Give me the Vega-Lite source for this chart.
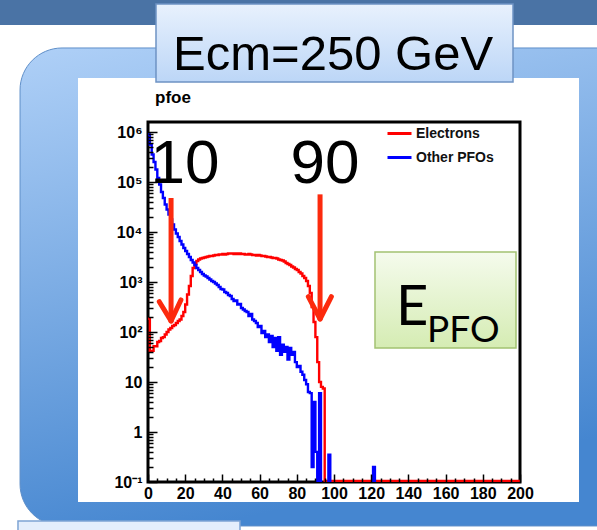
{
  "$schema": "https://vega.github.io/schema/vega-lite/v6.json",
  "width": 372,
  "height": 360,
  "autosize": {"type": "none"},
  "padding": {"left": 148, "top": 122, "right": 77, "bottom": 48},
  "background": "white",
  "config": {"view": {"stroke": null}, "axis": {"labelOverlap": false, "labelFlush": false, "labelBound": false}},
  "data": {"values": [
    {"x":0,"Electrons":186,"Other PFOs":891000},{"x":1,"Electrons":42,"Other PFOs":562000},{"x":2,"Electrons":42,"Other PFOs":355000},{"x":3,"Electrons":52,"Other PFOs":251000},{"x":4,"Electrons":52,"Other PFOs":178000},
    {"x":5,"Electrons":63,"Other PFOs":120000},{"x":6,"Electrons":66,"Other PFOs":89100},{"x":7,"Electrons":76,"Other PFOs":63100},{"x":8,"Electrons":79,"Other PFOs":47900},{"x":9,"Electrons":89,"Other PFOs":35500},
    {"x":10,"Electrons":100,"Other PFOs":28200},{"x":11,"Electrons":112,"Other PFOs":22400},{"x":12,"Electrons":120,"Other PFOs":17800},{"x":13,"Electrons":132,"Other PFOs":14100},{"x":14,"Electrons":138,"Other PFOs":11200},
    {"x":15,"Electrons":151,"Other PFOs":9330},{"x":16,"Electrons":166,"Other PFOs":7940},{"x":17,"Electrons":178,"Other PFOs":6610},{"x":18,"Electrons":209,"Other PFOs":5620},{"x":19,"Electrons":251,"Other PFOs":4790},
    {"x":20,"Electrons":355,"Other PFOs":4170},{"x":21,"Electrons":562,"Other PFOs":3630},{"x":22,"Electrons":832,"Other PFOs":3160},{"x":23,"Electrons":1320,"Other PFOs":2750},{"x":24,"Electrons":1910,"Other PFOs":2450},
    {"x":25,"Electrons":2290,"Other PFOs":2190},{"x":26,"Electrons":2630,"Other PFOs":1910},{"x":27,"Electrons":2820,"Other PFOs":1740},{"x":28,"Electrons":2950,"Other PFOs":1580},{"x":29,"Electrons":3020,"Other PFOs":1450},
    {"x":30,"Electrons":3090,"Other PFOs":1350},{"x":31,"Electrons":3160,"Other PFOs":1290},{"x":32,"Electrons":3240,"Other PFOs":1200},{"x":33,"Electrons":3310,"Other PFOs":1120},{"x":34,"Electrons":3310,"Other PFOs":1050},
    {"x":35,"Electrons":3390,"Other PFOs":1000},{"x":36,"Electrons":3470,"Other PFOs":933},{"x":37,"Electrons":3470,"Other PFOs":871},{"x":38,"Electrons":3550,"Other PFOs":794},{"x":39,"Electrons":3550,"Other PFOs":724},
    {"x":40,"Electrons":3630,"Other PFOs":708},{"x":41,"Electrons":3550,"Other PFOs":631},{"x":42,"Electrons":3630,"Other PFOs":603},{"x":43,"Electrons":3720,"Other PFOs":550},{"x":44,"Electrons":3720,"Other PFOs":525},
    {"x":45,"Electrons":3720,"Other PFOs":457},{"x":46,"Electrons":3630,"Other PFOs":417},{"x":47,"Electrons":3720,"Other PFOs":427},{"x":48,"Electrons":3630,"Other PFOs":355},{"x":49,"Electrons":3720,"Other PFOs":363},
    {"x":50,"Electrons":3630,"Other PFOs":302},{"x":51,"Electrons":3630,"Other PFOs":282},{"x":52,"Electrons":3550,"Other PFOs":263},{"x":53,"Electrons":3550,"Other PFOs":251},{"x":54,"Electrons":3630,"Other PFOs":209},
    {"x":55,"Electrons":3550,"Other PFOs":229},{"x":56,"Electrons":3470,"Other PFOs":178},{"x":57,"Electrons":3470,"Other PFOs":166},{"x":58,"Electrons":3390,"Other PFOs":151},{"x":59,"Electrons":3470,"Other PFOs":126},
    {"x":60,"Electrons":3390,"Other PFOs":132},{"x":61,"Electrons":3310,"Other PFOs":95},{"x":62,"Electrons":3310,"Other PFOs":105},{"x":63,"Electrons":3240,"Other PFOs":79},{"x":64,"Electrons":3160,"Other PFOs":89},
    {"x":65,"Electrons":3160,"Other PFOs":63},{"x":66,"Electrons":3090,"Other PFOs":83},{"x":67,"Electrons":3020,"Other PFOs":50},{"x":68,"Electrons":3020,"Other PFOs":76},{"x":69,"Electrons":2950,"Other PFOs":42},
    {"x":70,"Electrons":2820,"Other PFOs":79},{"x":71,"Electrons":2750,"Other PFOs":35},{"x":72,"Electrons":2690,"Other PFOs":56},{"x":73,"Electrons":2570,"Other PFOs":40},{"x":74,"Electrons":2400,"Other PFOs":50},
    {"x":75,"Electrons":2290,"Other PFOs":28},{"x":76,"Electrons":2190,"Other PFOs":48},{"x":77,"Electrons":2040,"Other PFOs":35},{"x":78,"Electrons":1950,"Other PFOs":40},{"x":79,"Electrons":1820,"Other PFOs":25},
    {"x":80,"Electrons":1740,"Other PFOs":20},{"x":81,"Electrons":1580,"Other PFOs":21},{"x":82,"Electrons":1480,"Other PFOs":16},{"x":83,"Electrons":1320,"Other PFOs":14},{"x":84,"Electrons":1200,"Other PFOs":11},
    {"x":85,"Electrons":1050,"Other PFOs":9},{"x":86,"Electrons":832,"Other PFOs":6.3},{"x":87,"Electrons":603,"Other PFOs":6},{"x":88,"Electrons":316,"Other PFOs":0.2},{"x":89,"Electrons":158,"Other PFOs":4},
    {"x":90,"Electrons":79,"Other PFOs":0.4},{"x":91,"Electrons":25,"Other PFOs":0.05},{"x":92,"Electrons":10,"Other PFOs":6},{"x":93,"Electrons":8,"Other PFOs":0.05},{"x":94,"Electrons":7.4,"Other PFOs":0.05},
    {"x":95,"Electrons":0.105,"Other PFOs":0.05},{"x":96,"Electrons":0.105,"Other PFOs":0.05},{"x":97,"Electrons":0.105,"Other PFOs":0.35},{"x":98,"Electrons":0.105,"Other PFOs":0.05},{"x":99,"Electrons":0.105,"Other PFOs":0.05},
    {"x":100,"Electrons":0.105,"Other PFOs":0.05},{"x":101,"Electrons":0.105,"Other PFOs":0.05},{"x":102,"Electrons":0.105,"Other PFOs":0.05},{"x":103,"Electrons":0.105,"Other PFOs":0.05},{"x":104,"Electrons":0.105,"Other PFOs":0.05},
    {"x":105,"Electrons":0.105,"Other PFOs":0.05},{"x":106,"Electrons":0.105,"Other PFOs":0.05},{"x":107,"Electrons":0.105,"Other PFOs":0.05},{"x":108,"Electrons":0.105,"Other PFOs":0.05},{"x":109,"Electrons":0.105,"Other PFOs":0.05},
    {"x":110,"Electrons":0.105,"Other PFOs":0.05},{"x":111,"Electrons":0.105,"Other PFOs":0.05},{"x":112,"Electrons":0.105,"Other PFOs":0.05},{"x":113,"Electrons":0.105,"Other PFOs":0.05},{"x":114,"Electrons":0.105,"Other PFOs":0.05},
    {"x":115,"Electrons":0.105,"Other PFOs":0.05},{"x":116,"Electrons":0.105,"Other PFOs":0.05},{"x":117,"Electrons":0.105,"Other PFOs":0.05},{"x":118,"Electrons":0.105,"Other PFOs":0.05},{"x":119,"Electrons":0.105,"Other PFOs":0.05},
    {"x":120,"Electrons":0.105,"Other PFOs":0.05},{"x":121,"Electrons":0.105,"Other PFOs":0.2},{"x":122,"Electrons":0.105,"Other PFOs":0.05},{"x":123,"Electrons":0.105,"Other PFOs":0.05},{"x":124,"Electrons":0.105,"Other PFOs":0.05},
    {"x":125,"Electrons":0.105,"Other PFOs":0.05},{"x":126,"Electrons":0.105,"Other PFOs":0.05},{"x":127,"Electrons":0.105,"Other PFOs":0.05},{"x":128,"Electrons":0.105,"Other PFOs":0.05},{"x":129,"Electrons":0.105,"Other PFOs":0.05},
    {"x":130,"Electrons":0.105,"Other PFOs":0.05},{"x":131,"Electrons":0.105,"Other PFOs":0.05},{"x":132,"Electrons":0.105,"Other PFOs":0.05},{"x":133,"Electrons":0.105,"Other PFOs":0.05},{"x":134,"Electrons":0.105,"Other PFOs":0.05},
    {"x":135,"Electrons":0.105,"Other PFOs":0.05},{"x":136,"Electrons":0.105,"Other PFOs":0.05},{"x":137,"Electrons":0.105,"Other PFOs":0.05},{"x":138,"Electrons":0.105,"Other PFOs":0.05},{"x":139,"Electrons":0.105,"Other PFOs":0.05},
    {"x":140,"Electrons":0.105,"Other PFOs":0.05},{"x":141,"Electrons":0.105,"Other PFOs":0.05},{"x":142,"Electrons":0.105,"Other PFOs":0.05},{"x":143,"Electrons":0.105,"Other PFOs":0.05},{"x":144,"Electrons":0.105,"Other PFOs":0.05},
    {"x":145,"Electrons":0.105,"Other PFOs":0.05},{"x":146,"Electrons":0.105,"Other PFOs":0.05},{"x":147,"Electrons":0.105,"Other PFOs":0.05},{"x":148,"Electrons":0.105,"Other PFOs":0.05},{"x":149,"Electrons":0.105,"Other PFOs":0.05},
    {"x":150,"Electrons":0.105,"Other PFOs":0.05},{"x":151,"Electrons":0.105,"Other PFOs":0.05},{"x":152,"Electrons":0.105,"Other PFOs":0.05},{"x":153,"Electrons":0.105,"Other PFOs":0.05},{"x":154,"Electrons":0.105,"Other PFOs":0.05},
    {"x":155,"Electrons":0.105,"Other PFOs":0.05},{"x":156,"Electrons":0.105,"Other PFOs":0.05},{"x":157,"Electrons":0.105,"Other PFOs":0.05},{"x":158,"Electrons":0.105,"Other PFOs":0.05},{"x":159,"Electrons":0.105,"Other PFOs":0.05},
    {"x":160,"Electrons":0.105,"Other PFOs":0.05},{"x":161,"Electrons":0.105,"Other PFOs":0.05},{"x":162,"Electrons":0.105,"Other PFOs":0.05},{"x":163,"Electrons":0.105,"Other PFOs":0.05},{"x":164,"Electrons":0.105,"Other PFOs":0.05},
    {"x":165,"Electrons":0.105,"Other PFOs":0.05},{"x":166,"Electrons":0.105,"Other PFOs":0.05},{"x":167,"Electrons":0.105,"Other PFOs":0.05},{"x":168,"Electrons":0.105,"Other PFOs":0.05},{"x":169,"Electrons":0.105,"Other PFOs":0.05},
    {"x":170,"Electrons":0.105,"Other PFOs":0.05},{"x":171,"Electrons":0.105,"Other PFOs":0.05},{"x":172,"Electrons":0.105,"Other PFOs":0.05},{"x":173,"Electrons":0.105,"Other PFOs":0.05},{"x":174,"Electrons":0.105,"Other PFOs":0.05},
    {"x":175,"Electrons":0.105,"Other PFOs":0.05},{"x":176,"Electrons":0.105,"Other PFOs":0.05},{"x":177,"Electrons":0.105,"Other PFOs":0.05},{"x":178,"Electrons":0.105,"Other PFOs":0.05},{"x":179,"Electrons":0.105,"Other PFOs":0.05},
    {"x":180,"Electrons":0.105,"Other PFOs":0.05},{"x":181,"Electrons":0.105,"Other PFOs":0.05},{"x":182,"Electrons":0.105,"Other PFOs":0.05},{"x":183,"Electrons":0.105,"Other PFOs":0.05},{"x":184,"Electrons":0.105,"Other PFOs":0.05},
    {"x":185,"Electrons":0.105,"Other PFOs":0.05},{"x":186,"Electrons":0.105,"Other PFOs":0.05},{"x":187,"Electrons":0.105,"Other PFOs":0.05},{"x":188,"Electrons":0.105,"Other PFOs":0.05},{"x":189,"Electrons":0.105,"Other PFOs":0.05},
    {"x":190,"Electrons":0.105,"Other PFOs":0.05},{"x":191,"Electrons":0.105,"Other PFOs":0.05},{"x":192,"Electrons":0.105,"Other PFOs":0.05},{"x":193,"Electrons":0.105,"Other PFOs":0.05},{"x":194,"Electrons":0.105,"Other PFOs":0.05},
    {"x":195,"Electrons":0.105,"Other PFOs":0.05},{"x":196,"Electrons":0.105,"Other PFOs":0.05},{"x":197,"Electrons":0.105,"Other PFOs":0.05},{"x":198,"Electrons":0.105,"Other PFOs":0.05},{"x":199,"Electrons":0.105,"Other PFOs":0.05},
    {"x":200,"Electrons":0.105,"Other PFOs":0.05}
  ]},
  "layer": [
    {"data": {"values": [{}]}, "mark": {"type": "rect", "color": "#4a73a5"},
     "encoding": {"x": {"datum": -80}, "x2": {"datum": 242}, "y": {"datum": 1.1e9}, "y2": {"datum": 1.38e8}}},
    {"data": {"values": [{}]}, "mark": {"type": "rect", "cornerRadius": 42, "stroke": "#5f8fc9", "strokeWidth": 1,
      "color": {"gradient": "linear", "x1": 0, "y1": 0, "x2": 0.3, "y2": 1, "stops": [{"offset": 0, "color": "#afd0f7"}, {"offset": 1, "color": "#4586d0"}]}},
     "encoding": {"x": {"datum": -68.8}, "x2": {"datum": 269.9}, "y": {"datum": 4.79e7}, "y2": {"datum": 0.0132}}},
    {"data": {"values": [{}]}, "mark": {"type": "rect", "color": "white"},
     "encoding": {"x": {"datum": -37.63}, "x2": {"datum": 231.72}, "y": {"datum": 1.2e7}, "y2": {"datum": 0.0398}}},
    {"data": {"values": [{}]}, "mark": {"type": "rect", "stroke": "#6e93c4", "strokeWidth": 1.5,
      "color": {"gradient": "linear", "x1": 0, "y1": 0, "x2": 0, "y2": 1, "stops": [{"offset": 0, "color": "#e8f1fd"}, {"offset": 1, "color": "#bcd6f7"}]}},
     "encoding": {"x": {"datum": 4.3}, "x2": {"datum": 196.24}, "y": {"datum": 3.63e8}, "y2": {"datum": 1e7}}},
    {"data": {"values": [{}]}, "mark": {"type": "text", "text": "Ecm=250 GeV", "font": "Liberation Sans", "fontSize": 49, "align": "center", "baseline": "alphabetic", "color": "black"},
     "encoding": {"x": {"datum": 99.5}, "y": {"datum": 1.74e7}}},
    {"data": {"values": [{}]}, "mark": {"type": "rect", "stroke": "#7ea4d4", "strokeWidth": 1.5, "color": "#e4eefc"},
     "encoding": {"x": {"datum": -69.9}, "x2": {"datum": 49.46}, "y": {"datum": 0.0166}, "y2": {"datum": 0.0011}}},
    {"data": {"values": [{}]}, "mark": {"type": "text", "text": "pfoe", "font": "Liberation Sans", "fontWeight": "bold", "fontSize": 17, "align": "left", "baseline": "alphabetic", "color": "black"},
     "encoding": {"x": {"datum": 3.76}, "y": {"datum": 3.8e6}}},
    {"data": {"values": [{}]}, "mark": {"type": "rect", "fillOpacity": 0, "stroke": "black", "strokeWidth": 3},
     "encoding": {"x": {"datum": 0}, "x2": {"datum": 200}, "y": {"datum": 0.1}, "y2": {"datum": 1584893}}},
    {"transform": [{"fold": ["Electrons", "Other PFOs"], "as": ["series", "count"]}],
     "mark": {"type": "line", "interpolate": "step-after", "strokeWidth": 2.4, "clip": true},
     "encoding": {
       "x": {"field": "x", "type": "quantitative", "title": null, "scale": {"domain": [0, 200], "nice": false, "zero": false},
         "axis": {"title": null, "domain": false, "grid": false, "zindex": 1, "tickCount": 1000, "format": "d",
           "values": [0,5,10,15,20,25,30,35,40,45,50,55,60,65,70,75,80,85,90,95,100,105,110,115,120,125,130,135,140,145,150,155,160,165,170,175,180,185,190,195,200],
           "labelExpr": "datum.value % 20 === 0 ? '' + datum.value : ''",
           "tickColor": "black", "tickWidth": 1.5,
           "tickSize": {"condition": {"test": "datum.value % 20 === 0", "value": -8}, "value": -4},
           "labelFont": "Liberation Sans", "labelFontWeight": "bold", "labelFontSize": 16, "labelColor": "black",
           "labelPadding": 11, "labelFlush": false, "labelOverlap": false, "labelBound": false}},
       "y": {"field": "count", "type": "quantitative", "title": null, "scale": {"type": "log", "domain": [0.1, 1584893], "nice": false},
         "axis": {"title": null, "domain": false, "grid": false, "zindex": 1, "tickCount": 1000,
           "values": [0.1,0.2,0.3,0.4,0.5,0.6,0.7,0.8,0.9,1,2,3,4,5,6,7,8,9,10,20,30,40,50,60,70,80,90,100,200,300,400,500,600,700,800,900,1000,2000,3000,4000,5000,6000,7000,8000,9000,10000,20000,30000,40000,50000,60000,70000,80000,90000,100000,200000,300000,400000,500000,600000,700000,800000,900000,1000000],
           "labelExpr": "datum.value == 0.1 ? '10⁻¹' : datum.value == 1 ? '1' : datum.value == 10 ? '10' : datum.value == 100 ? '10²' : datum.value == 1000 ? '10³' : datum.value == 10000 ? '10⁴' : datum.value == 100000 ? '10⁵' : datum.value == 1000000 ? '10⁶' : ''",
           "tickColor": "black", "tickWidth": 1.5,
           "tickSize": {"condition": {"test": "indexof([0.1,1,10,100,1000,10000,100000,1000000], datum.value) >= 0", "value": -9}, "value": -5},
           "labelFont": "Liberation Sans", "labelFontWeight": "bold", "labelFontSize": 16, "labelColor": "black",
           "labelPadding": 15, "labelFlush": false, "labelOverlap": false, "labelBound": false}},
       "color": {"field": "series", "type": "nominal", "scale": {"domain": ["Electrons", "Other PFOs"], "range": ["#ff0000", "#0000ff"]},
         "legend": {"title": null, "orient": "none", "legendX": 238, "legendY": -2, "padding": 0, "symbolType": "stroke", "symbolStrokeWidth": 3, "symbolSize": 576,
           "labelFont": "Liberation Sans", "labelFontWeight": "bold", "labelFontSize": 14, "labelColor": "#111", "rowPadding": 3, "labelOffset": 3}}
     }},
    {"data": {"values": [{}]}, "mark": {"type": "rule", "color": "#fc2a0d", "strokeWidth": 5},
     "encoding": {"x": {"datum": 12.4}, "y": {"datum": 47900}, "x2": {"datum": 12.4}, "y2": {"datum": 191}}},
    {"data": {"values": [{}]}, "mark": {"type": "rule", "color": "#fc2a0d", "strokeWidth": 5, "strokeCap": "round"},
     "encoding": {"x": {"datum": 6.08}, "y": {"datum": 404}, "x2": {"datum": 12.4}, "y2": {"datum": 166}}},
    {"data": {"values": [{}]}, "mark": {"type": "rule", "color": "#fc2a0d", "strokeWidth": 5, "strokeCap": "round"},
     "encoding": {"x": {"datum": 17.7}, "y": {"datum": 437}, "x2": {"datum": 12.4}, "y2": {"datum": 166}}},
    {"data": {"values": [{}]}, "mark": {"type": "rule", "color": "#fc2a0d", "strokeWidth": 5},
     "encoding": {"x": {"datum": 92.5}, "y": {"datum": 56600}, "x2": {"datum": 92.5}, "y2": {"datum": 200}}},
    {"data": {"values": [{}]}, "mark": {"type": "rule", "color": "#fc2a0d", "strokeWidth": 5, "strokeCap": "round"},
     "encoding": {"x": {"datum": 86.2}, "y": {"datum": 508}, "x2": {"datum": 92.5}, "y2": {"datum": 182}}},
    {"data": {"values": [{}]}, "mark": {"type": "rule", "color": "#fc2a0d", "strokeWidth": 5, "strokeCap": "round"},
     "encoding": {"x": {"datum": 98.6}, "y": {"datum": 508}, "x2": {"datum": 92.5}, "y2": {"datum": 182}}},
    {"data": {"values": [{}]}, "mark": {"type": "rect", "stroke": "#a3c272", "strokeWidth": 1.5,
      "color": {"gradient": "linear", "x1": 0, "y1": 0, "x2": 0, "y2": 1, "stops": [{"offset": 0, "color": "#f5fbed"}, {"offset": 1, "color": "#d5ecb3"}]}},
     "encoding": {"x": {"datum": 122.04}, "x2": {"datum": 197.85}, "y": {"datum": 3981}, "y2": {"datum": 47.9}}},
    {"data": {"values": [{}]}, "mark": {"type": "text", "text": "E", "font": "Lato", "fontSize": 56, "align": "left", "baseline": "alphabetic", "color": "black"},
     "encoding": {"x": {"datum": 133.3}, "y": {"datum": 138}}},
    {"data": {"values": [{}]}, "mark": {"type": "text", "text": "PFO", "font": "Lato", "fontSize": 37, "align": "left", "baseline": "alphabetic", "color": "black"},
     "encoding": {"x": {"datum": 150}, "y": {"datum": 63.1}}},
    {"data": {"values": [{}]}, "mark": {"type": "text", "text": "10", "font": "Liberation Sans", "fontSize": 62, "align": "center", "baseline": "alphabetic", "color": "black"},
     "encoding": {"x": {"datum": 19.9}, "y": {"datum": 95500}}},
    {"data": {"values": [{}]}, "mark": {"type": "text", "text": "90", "font": "Liberation Sans", "fontSize": 62, "align": "center", "baseline": "alphabetic", "color": "black"},
     "encoding": {"x": {"datum": 95.2}, "y": {"datum": 95500}}}
  ]
}
